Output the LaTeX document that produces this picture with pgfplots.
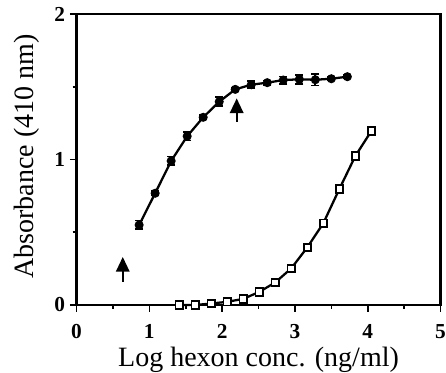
\documentclass[border=0pt]{standalone}
\usepackage{fontspec}
\setmainfont{Liberation Serif}
\usepackage{pgfplots}
\usepackage{pgfplotstable}
\pgfplotsset{compat=1.18}
\usetikzlibrary{arrows.meta}

\pgfplotstableread{
x y e
0.86 0.550 0.030
1.08 0.768 0.015
1.30 0.990 0.030
1.52 1.160 0.030
1.74 1.290 0.015
1.96 1.397 0.030
2.18 1.482 0.010
2.40 1.514 0.025
2.62 1.528 0.015
2.84 1.546 0.025
3.06 1.551 0.030
3.28 1.548 0.040
3.50 1.555 0.010
3.72 1.569 0.010
}\filled

\pgfplotstableread{
x y
1.41 0.000
1.63 0.000
1.85 0.010
2.07 0.022
2.29 0.042
2.51 0.090
2.73 0.155
2.95 0.252
3.17 0.396
3.39 0.562
3.61 0.797
3.83 1.024
4.05 1.196
}\open

\begin{document}
\begin{tikzpicture}
\begin{axis}[
  scale only axis, width=273pt, height=218.25pt,
  xmin=0, xmax=5, ymin=0, ymax=2,
  xtick={0,1,2,3,4,5}, ytick={0,1,2},
  minor xtick={0.5,1.5,2.5,3.5,4.5}, minor ytick={0.5,1.5},
  tick align=outside, xtick pos=bottom, ytick pos=left,
  major tick length=5pt, minor tick length=3pt,
  axis line style={line width=1.7pt},
  every tick/.style={black, line width=1.2pt},
  tick label style={font=\fontsize{16}{16}\selectfont\bfseries},
  xticklabel style={inner sep=0.5pt, yshift=-9pt},
  /pgf/number format/assume math mode=true,
  label style={font=\fontsize{21}{25}\selectfont, inner sep=0pt},
  xlabel={Log hexon conc. (ng/ml)},
  ylabel={Absorbance (410 nm)},
  xlabel style={at={(axis description cs:0.5,-0.212)}, anchor=base},
  ylabel style={at={(axis description cs:-0.1194,0.51)}, anchor=base},
  clip=false,
]
\coordinate (sw) at (rel axis cs:0,0);
\coordinate (ne) at (rel axis cs:1,1);
\addplot[black, line width=1.7pt, mark=*, mark size=2.5pt,
  error bars/.cd, y dir=both, y explicit,
  error bar style={line width=1.3pt},
  error mark options={rotate=90, mark size=3pt, line width=1.3pt}]
  table[x=x, y=y, y error=e] {\filled};
\addplot[black, line width=1.7pt, mark=square*, mark size=2.8pt,
  mark options={fill=white, line width=1.4pt}]
  table[x=x, y=y] {\open};
\draw[-{Triangle[length=11pt,width=10pt]}, line width=1.6pt]
  (axis cs:0.635,0.16) -- (axis cs:0.635,0.33);
\draw[-{Triangle[length=11pt,width=10pt]}, line width=1.6pt]
  (axis cs:2.20,1.26) -- (axis cs:2.20,1.42);
\end{axis}
\pgfresetboundingbox
\path[use as bounding box] ([xshift=-57.4pt, yshift=-51pt]sw) rectangle ([xshift=4.1pt, yshift=10.5pt]ne);
\end{tikzpicture}
\end{document}
